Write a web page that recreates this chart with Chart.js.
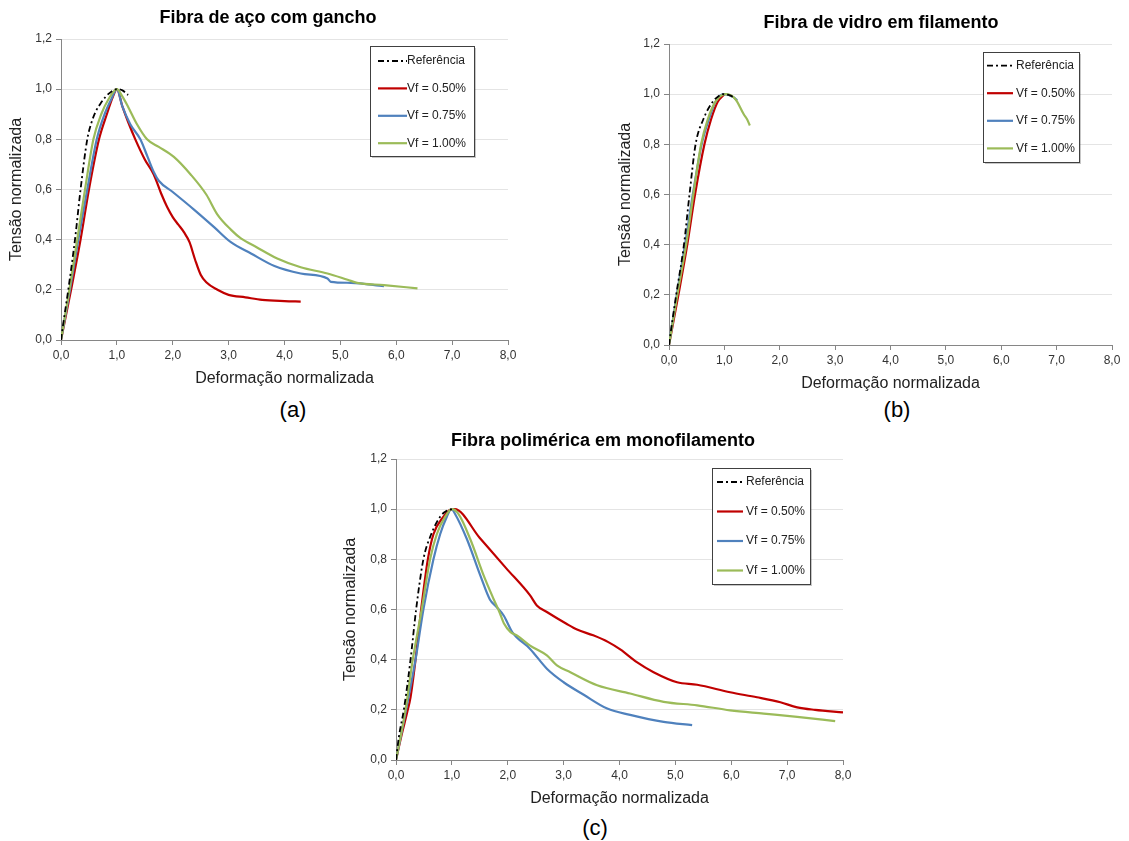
<!DOCTYPE html>
<html>
<head>
<meta charset="utf-8">
<script src="https://cdn.jsdelivr.net/npm/chart.js"></script>
<style>
  body { margin: 0; background: #fff; width: 1129px; height: 841px; overflow: hidden; position: relative; font-family: "Liberation Sans", Arial, sans-serif; }
  canvas { position: absolute; }
  .tag { position: absolute; font-size: 22px; color: #000; transform: translate(-50%, -50%); }
</style>
</head>
<body>
<canvas id="chartA" width="536" height="388" style="left:0px;top:0px"></canvas>
<canvas id="chartB" width="544" height="388" style="left:609px;top:5px"></canvas>
<canvas id="chartC" width="538" height="388" style="left:334px;top:420px"></canvas>
<div class="tag" style="left:293px;top:410px">(a)</div>
<div class="tag" style="left:897px;top:410px">(b)</div>
<div class="tag" style="left:595px;top:828px">(c)</div>
<script>
const FONT = "'Liberation Sans', Arial, sans-serif";

const seriesLabels = ["Referência", "Vf = 0.50%", "Vf = 0.75%", "Vf = 1.00%"];
const seriesColors = ["#000000", "#C00000", "#4F81BD", "#9BBB59"];
const chartTitles = ["Fibra de aço com gancho", "Fibra de vidro em filamento", "Fibra polimérica em monofilamento"];
const xTitle = "Deformação normalizada";
const yTitle = "Tensão normalizada";

// (a) steel hooked fibre  [strain, stress]
const steelRef = [[0,0],[0.05,0.08],[0.13,0.2],[0.25,0.4],[0.35,0.6],[0.47,0.8],[0.55,0.87],[0.62,0.91],[0.7,0.94],[0.8,0.97],[0.9,0.99],[1.0,1.0],[1.1,0.995],[1.2,0.977]];
const steel050 = [[0,0],[0.18,0.2],[0.35,0.4],[0.5,0.6],[0.68,0.8],[0.82,0.9],[0.93,0.97],[1.0,1.0],[1.1,0.93],[1.2,0.87],[1.33,0.8],[1.5,0.72],[1.66,0.66],[1.8,0.58],[1.9,0.53],[2.0,0.49],[2.1,0.46],[2.2,0.43],[2.3,0.39],[2.4,0.32],[2.5,0.26],[2.6,0.23],[2.8,0.2],[3.0,0.18],[3.3,0.17],[3.6,0.16],[4.0,0.155],[4.29,0.153]];
const steel075 = [[0,0],[0.16,0.2],[0.31,0.4],[0.47,0.6],[0.64,0.8],[0.78,0.9],[0.9,0.96],[1.0,1.0],[1.1,0.93],[1.24,0.86],[1.42,0.8],[1.55,0.73],[1.66,0.67],[1.75,0.635],[2.0,0.59],[2.38,0.52],[2.74,0.45],[3.04,0.39],[3.4,0.345],[3.82,0.295],[4.29,0.265],[4.77,0.245],[4.83,0.232],[5.19,0.228],[5.78,0.215]];
const steel100 = [[0,0],[0.15,0.2],[0.29,0.4],[0.43,0.6],[0.58,0.8],[0.72,0.9],[0.85,0.96],[1.0,1.0],[1.1,0.97],[1.2,0.93],[1.36,0.86],[1.54,0.8],[1.75,0.77],[2.02,0.73],[2.32,0.66],[2.6,0.58],[2.8,0.5],[3.04,0.44],[3.22,0.405],[3.5,0.37],[3.87,0.325],[4.29,0.29],[4.77,0.265],[5.13,0.24],[5.3,0.228],[5.78,0.219],[6.38,0.206]];

// (b) glass filament fibre
const glassRef = [[0,0],[0.05,0.08],[0.13,0.2],[0.27,0.4],[0.37,0.6],[0.48,0.8],[0.62,0.9],[0.79,0.97],[0.9,0.993],[0.96,1.0],[1.1,0.995],[1.2,0.984]];
const glass050 = [[0,0],[0.17,0.2],[0.33,0.4],[0.47,0.6],[0.64,0.8],[0.76,0.9],[0.88,0.97],[1.0,1.0]];
const glass075 = [[0,0],[0.14,0.2],[0.29,0.4],[0.43,0.6],[0.59,0.8],[0.72,0.9],[0.84,0.97],[0.99,1.0],[1.17,0.987],[1.23,0.975]];
const glass100 = [[0,0],[0.15,0.2],[0.31,0.4],[0.44,0.6],[0.58,0.8],[0.7,0.9],[0.84,0.97],[1.02,1.0],[1.2,0.98],[1.35,0.92],[1.41,0.9],[1.46,0.875]];

// (c) polymer monofilament fibre
const polyRef = [[0,0],[0.05,0.09],[0.14,0.2],[0.26,0.4],[0.36,0.6],[0.49,0.8],[0.63,0.9],[0.79,0.97],[0.9,0.993],[1.0,1.0]];
const poly050 = [[0,0],[0.1,0.1],[0.2,0.19],[0.26,0.25],[0.35,0.4],[0.45,0.6],[0.57,0.8],[0.67,0.9],[0.85,0.97],[0.95,0.995],[1.05,1.0],[1.5,0.885],[1.97,0.765],[2.4,0.656],[2.52,0.616],[2.7,0.59],[3.05,0.543],[3.24,0.52],[3.53,0.497],[3.8,0.47],[4.02,0.44],[4.31,0.39],[4.61,0.35],[5.03,0.31],[5.39,0.3],[5.98,0.27],[6.46,0.25],[6.88,0.23],[7.18,0.21],[7.5,0.2],[8.0,0.19]];
const poly075 = [[0,0],[0.18,0.2],[0.35,0.4],[0.49,0.6],[0.67,0.8],[0.79,0.9],[0.91,0.97],[0.99,1.0],[1.06,0.98],[1.27,0.88],[1.51,0.735],[1.68,0.64],[1.8,0.61],[1.93,0.575],[1.99,0.549],[2.08,0.51],[2.4,0.443],[2.7,0.364],[3.0,0.31],[3.36,0.26],[3.78,0.205],[4.19,0.18],[4.79,0.152],[5.3,0.139]];
const poly100 = [[0,0],[0.17,0.2],[0.3,0.4],[0.46,0.6],[0.61,0.8],[0.73,0.9],[0.88,0.97],[1.0,1.0],[1.12,0.98],[1.33,0.88],[1.57,0.735],[1.75,0.64],[1.86,0.585],[1.93,0.545],[2.05,0.51],[2.17,0.496],[2.4,0.456],[2.7,0.417],[2.88,0.377],[3.12,0.35],[3.6,0.298],[4.19,0.265],[4.79,0.232],[5.39,0.218],[5.98,0.198],[6.58,0.185],[7.18,0.172],[7.86,0.155]];

const fmt = (v) => v.toFixed(1).replace(".", ",");

// bold title placed at a given centre (Excel centres it on the whole chart object)
const panelTitle = {
  id: "panelTitle",
  afterDraw(chart, args, opts) {
    const { ctx } = chart;
    ctx.save();
    ctx.font = "bold 18px " + FONT;
    ctx.fillStyle = "#000";
    ctx.textAlign = "center";
    ctx.textBaseline = "middle";
    ctx.fillText(opts.text, opts.cx, opts.cy);
    ctx.restore();
  }
};

// legend drawn as a framed box inside the plot area
const boxLegend = {
  id: "boxLegend",
  afterDraw(chart, args, opts) {
    const { ctx, chartArea } = chart;
    const x = chartArea.left + opts.left;
    const y = chartArea.top + opts.top;
    ctx.save();
    ctx.fillStyle = "rgba(0,0,0,0.22)";
    ctx.fillRect(x + 2, y + 2, opts.width, opts.height);
    ctx.fillStyle = "#fff";
    ctx.fillRect(x, y, opts.width, opts.height);
    ctx.strokeStyle = "#404040";
    ctx.lineWidth = 1;
    ctx.strokeRect(x + 0.5, y + 0.5, opts.width, opts.height);
    ctx.font = "12px " + FONT;
    ctx.textBaseline = "middle";
    chart.data.datasets.forEach((ds, i) => {
      const ry = y + opts.rowStart + i * opts.rowStep;
      ctx.beginPath();
      ctx.setLineDash(ds.borderDash || []);
      ctx.strokeStyle = ds.borderColor;
      ctx.lineWidth = ds.borderWidth;
      ctx.moveTo(x + opts.lineStart, ry);
      ctx.lineTo(x + opts.lineEnd, ry);
      ctx.stroke();
      ctx.setLineDash([]);
      ctx.fillStyle = "#222";
      ctx.fillText(ds.label, x + opts.textX, ry);
    });
    ctx.restore();
  }
};

const makeChart = (id, titleBox, series, legendBox, padRight, yWidth) => {
  const datasets = series.map((pts, i) => ({
    label: seriesLabels[i],
    data: pts.map(p => ({ x: p[0], y: p[1] })),
    borderColor: seriesColors[i],
    borderWidth: i === 0 ? 1.8 : 2.2,
    borderDash: i === 0 ? [6, 3, 2, 3] : [],
    pointRadius: 0,
    cubicInterpolationMode: "monotone",
    fill: false,
    // reference on top, then 0.50%, 0.75%, 1.00%
    order: i === 0 ? 0 : 4 - i
  }));

  return new Chart(document.getElementById(id), {
    type: "line",
    data: { datasets },
    plugins: [boxLegend, panelTitle],
    options: {
      responsive: false,
      animation: false,
      devicePixelRatio: 1,
      layout: { padding: { left: 0, right: padRight, top: 39, bottom: 0 } },
      plugins: {
        legend: { display: false },
        tooltip: { enabled: false },
        title: { display: false },
        panelTitle: titleBox,
        boxLegend: legendBox
      },
      scales: {
        x: {
          type: "linear", min: 0, max: 8,
          afterFit: (s) => { s.height = 48; },
          border: { color: "#868686" },
          grid: { drawOnChartArea: false, tickLength: 5, tickColor: "#868686" },
          ticks: { stepSize: 1, padding: 3, color: "#333", font: { family: FONT, size: 12 }, callback: fmt, maxRotation: 0 },
          title: { display: true, text: xTitle, color: "#222", font: { family: FONT, size: 16 }, padding: { top: 0, bottom: 0 } }
        },
        y: {
          type: "linear", min: 0, max: 1.2,
          afterFit: (s) => { s.width = yWidth; },
          border: { color: "#868686" },
          grid: { color: "#e4e4e4", tickLength: 5, tickColor: "#868686" },
          ticks: { stepSize: 0.2, padding: 4, color: "#333", font: { family: FONT, size: 12 }, callback: fmt },
          title: { display: true, text: yTitle, color: "#222", font: { family: FONT, size: 16 }, padding: { top: 7, bottom: 0 } }
        }
      }
    }
  });
};

const init = () => {
  makeChart("chartA", { text: chartTitles[0], cx: 268, cy: 18 },
    [steelRef, steel050, steel075, steel100],
    { left: 309, top: 7, width: 104, height: 110, rowStart: 15, rowStep: 27.4, lineStart: 8, lineEnd: 37, textX: 37 }, 28, 61);
  makeChart("chartB", { text: chartTitles[1], cx: 272, cy: 18 },
    [glassRef, glass050, glass075, glass100],
    { left: 314, top: 8, width: 96, height: 110, rowStart: 13.6, rowStep: 27.6, lineStart: 4, lineEnd: 30, textX: 33 }, 41, 60);
  makeChart("chartC", { text: chartTitles[2], cx: 269, cy: 21 },
    [polyRef, poly050, poly075, poly100],
    { left: 316, top: 9, width: 98, height: 116, rowStart: 14, rowStep: 29.5, lineStart: 5, lineEnd: 31, textX: 34 }, 29, 62);
};

init();
</script>
</body>
</html>
